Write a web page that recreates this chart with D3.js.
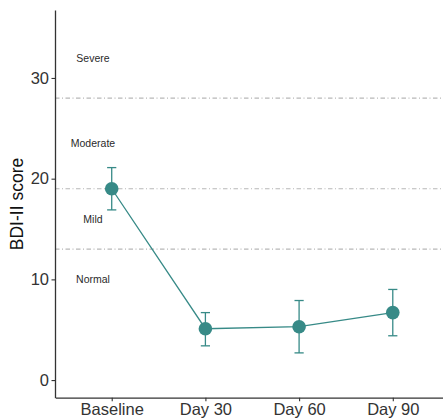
<!DOCTYPE html>
<html>
<head>
<meta charset="utf-8">
<script src="https://cdn.jsdelivr.net/npm/d3@7"></script>
<style>
  body { margin: 0; background: #fff; }
  svg { display: block; font-family: "Liberation Sans", Arial, Helvetica, sans-serif; }
</style>
</head>
<body>
<svg id="chart" width="443" height="419"></svg>
<script>
// Time points and BDI-II mean scores with error-bar limits
const timepoints = ["Baseline", "Day 30", "Day 60", "Day 90"];
const meanScore  = [19.0, 5.1, 5.3, 6.7];
const lowerBound = [16.9, 3.4, 2.7, 4.4];
const upperBound = [21.1, 6.7, 7.9, 9.0];

// Severity cut-offs (dashed reference lines) and band labels
const cutoffs = [13, 19, 28];
const bandLabels = ["Severe", "Moderate", "Mild", "Normal"];
const bandLabelY = [32, 23.5, 16, 10];
const yTicks = [0, 10, 20, 30];

const teal = "#378a87";
const svg = d3.select("#chart");

const x = d3.scalePoint()
  .domain(timepoints)
  .range([55.5, 449])
  .padding(0.6);

const y = d3.scaleLinear()
  .domain([-1.75, 36.75])
  .range([397.7, 10]);

const bandX = x(timepoints[0]) - 0.2 * x.step();

// reference lines
svg.append("g")
  .selectAll("line")
  .data(cutoffs)
  .join("line")
  .attr("x1", 55).attr("x2", 443)
  .attr("y1", d => y(d)).attr("y2", d => y(d))
  .attr("stroke", "#b8b8b8")
  .attr("stroke-width", 1.1)
  .attr("stroke-dasharray", "4.5 2.5 1 2.5");

// band labels
svg.append("g")
  .selectAll("text")
  .data(bandLabels)
  .join("text")
  .attr("x", bandX)
  .attr("y", (d, i) => y(bandLabelY[i]))
  .attr("dy", "0.35em")
  .attr("text-anchor", "middle")
  .attr("font-size", 10.5)
  .attr("fill", "#2a2a2a")
  .text(d => d);

// connecting line
const series = timepoints.map((t, i) => ({ t, m: meanScore[i], lo: lowerBound[i], hi: upperBound[i] }));
svg.append("path")
  .datum(series)
  .attr("fill", "none")
  .attr("stroke", teal)
  .attr("stroke-width", 1.3)
  .attr("d", d3.line().x(d => x(d.t)).y(d => y(d.m)));

// error bars
const eb = svg.append("g")
  .attr("stroke", teal)
  .attr("stroke-width", 1.3)
  .selectAll("g")
  .data(series)
  .join("g");
eb.append("line")
  .attr("x1", d => x(d.t)).attr("x2", d => x(d.t))
  .attr("y1", d => y(d.lo)).attr("y2", d => y(d.hi));
eb.append("line")
  .attr("x1", d => x(d.t) - 4.6).attr("x2", d => x(d.t) + 4.6)
  .attr("y1", d => y(d.lo)).attr("y2", d => y(d.lo));
eb.append("line")
  .attr("x1", d => x(d.t) - 4.6).attr("x2", d => x(d.t) + 4.6)
  .attr("y1", d => y(d.hi)).attr("y2", d => y(d.hi));

// points
svg.append("g")
  .selectAll("circle")
  .data(series)
  .join("circle")
  .attr("cx", d => x(d.t))
  .attr("cy", d => y(d.m))
  .attr("r", 6.8)
  .attr("fill", teal);

// axes
const yAxis = svg.append("g")
  .attr("transform", "translate(55,0)")
  .call(d3.axisLeft(y).tickValues(yTicks).tickSize(3.5).tickSizeOuter(0).tickPadding(2.5));
const xAxis = svg.append("g")
  .attr("transform", "translate(0,397.7)")
  .call(d3.axisBottom(x).tickSize(3.5).tickSizeOuter(0).tickPadding(2));

[yAxis, xAxis].forEach(g => {
  g.select(".domain").attr("stroke", "#333").attr("stroke-width", 1.3);
  g.selectAll(".tick line").attr("stroke", "#333").attr("stroke-width", 1.1);
  g.selectAll(".tick text")
    .attr("font-size", 16.5)
    .attr("fill", "#333")
    .attr("font-family", "'Liberation Sans', Arial, sans-serif");
});

// y-axis title
svg.append("text")
  .attr("transform", "translate(17,204) rotate(-90)")
  .attr("dy", "0.35em")
  .attr("text-anchor", "middle")
  .attr("font-size", 17.5)
  .attr("fill", "#111")
  .text("BDI-II score");
</script>
</body>
</html>
